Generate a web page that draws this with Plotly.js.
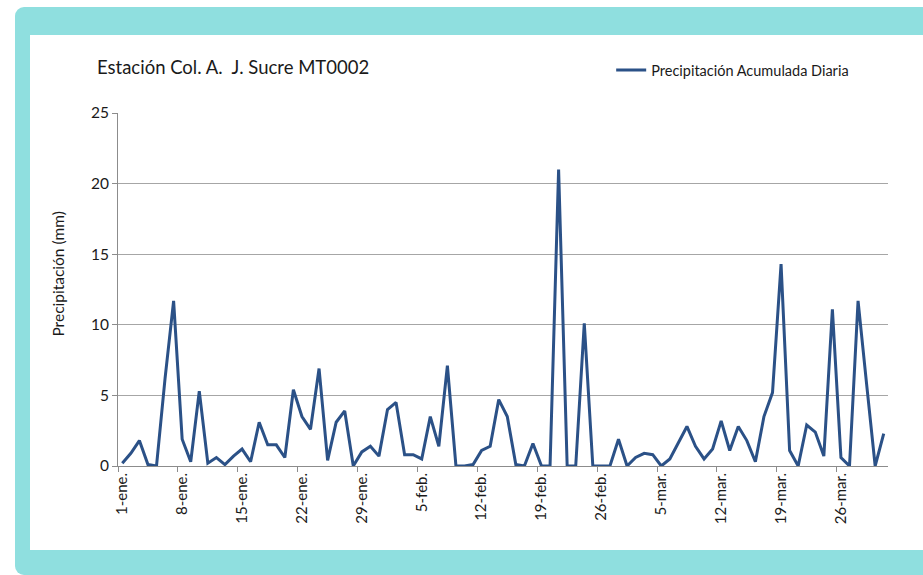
<!DOCTYPE html>
<html>
<head>
<meta charset="utf-8">
<script src="https://cdn.plot.ly/plotly-3.0.1.min.js"></script>
<style>
  html, body { margin: 0; padding: 0; background: #ffffff; }
  #marco { position: absolute; left: 15px; top: 7px; width: 940px; height: 568px;
           background: #8fdfdf; border-radius: 9px; }
  #hoja { position: absolute; left: 30px; top: 35px; width: 920px; height: 515px; background: #ffffff; }
  #grafico { position: absolute; left: 0; top: 0; width: 923px; height: 575px; }
</style>
</head>
<body>
<div id="marco"></div>
<div id="hoja"></div>
<div id="grafico"></div>
<script>
// Estación Col. A. J. Sucre MT0002 - precipitación diaria ene-mar

var dias = [
  "1-ene.", "2-ene.", "3-ene.", "4-ene.", "5-ene.", "6-ene.", "7-ene.", "8-ene.", "9-ene.", "10-ene.",
  "11-ene.", "12-ene.", "13-ene.", "14-ene.", "15-ene.", "16-ene.", "17-ene.", "18-ene.", "19-ene.", "20-ene.",
  "21-ene.", "22-ene.", "23-ene.", "24-ene.", "25-ene.", "26-ene.", "27-ene.", "28-ene.", "29-ene.", "30-ene.",
  "31-ene.", "1-feb.", "2-feb.", "3-feb.", "4-feb.", "5-feb.", "6-feb.", "7-feb.", "8-feb.", "9-feb.",
  "10-feb.", "11-feb.", "12-feb.", "13-feb.", "14-feb.", "15-feb.", "16-feb.", "17-feb.", "18-feb.", "19-feb.",
  "20-feb.", "21-feb.", "22-feb.", "23-feb.", "24-feb.", "25-feb.", "26-feb.", "27-feb.", "28-feb.", "1-mar.",
  "2-mar.", "3-mar.", "4-mar.", "5-mar.", "6-mar.", "7-mar.", "8-mar.", "9-mar.", "10-mar.", "11-mar.",
  "12-mar.", "13-mar.", "14-mar.", "15-mar.", "16-mar.", "17-mar.", "18-mar.", "19-mar.", "20-mar.", "21-mar.",
  "22-mar.", "23-mar.", "24-mar.", "25-mar.", "26-mar.", "27-mar.", "28-mar.", "29-mar.", "30-mar.", "31-mar."
];

var precipitacion = [
  0.2, 0.9, 1.8, 0.1, 0.0, 6.2, 11.7, 1.9, 0.3, 5.3,
  0.2, 0.6, 0.1, 0.7, 1.2, 0.3, 3.1, 1.5, 1.5, 0.6,
  5.4, 3.5, 2.6, 6.9, 0.4, 3.1, 3.9, 0.0, 1.0, 1.4,
  0.7, 4.0, 4.5, 0.8, 0.8, 0.5, 3.5, 1.4, 7.1, 0.0,
  0.0, 0.1, 1.1, 1.4, 4.7, 3.5, 0.1, 0.0, 1.6, 0.0,
  0.0, 21.0, 0.0, 0.0, 10.1, 0.0, 0.0, 0.0, 1.9, 0.0,
  0.6, 0.9, 0.8, 0.0, 0.5, 1.7, 2.8, 1.4, 0.5, 1.2,
  3.2, 1.1, 2.8, 1.8, 0.3, 3.5, 5.2, 14.3, 1.1, 0.0,
  2.9, 2.4, 0.7, 11.1, 0.6, 0.0, 11.7, 5.8, 0.0, 2.3
];

var etiquetas = ["1-ene.", "8-ene.", "15-ene.", "22-ene.", "29-ene.", "5-feb.", "12-feb.",
                 "19-feb.", "26-feb.", "5-mar.", "12-mar.", "19-mar.", "26-mar."];

var fuente = "Lato, 'Open Sans', sans-serif";

var posiciones = etiquetas.map(function (e) { return dias.indexOf(e); });

var serie = {
  x: dias.map(function (d, i) { return i; }),
  y: precipitacion,
  text: dias,
  name: 'Precipitación Acumulada Diaria',
  type: 'scatter',
  mode: 'lines',
  line: { color: '#2b5187', width: 3 },
  hovertemplate: '%{text}: %{y} mm<extra></extra>'
};

var layout = {
  width: 923,
  height: 575,
  paper_bgcolor: 'rgba(0,0,0,0)',
  plot_bgcolor: 'rgba(0,0,0,0)',
  margin: { l: 117.5, r: 35, t: 113, b: 109 },
  font: { family: fuente, color: '#1a1a1a', size: 14 },
  showlegend: true,
  legend: {
    x: (611 - 117.5) / 770.5, xref: 'paper', xanchor: 'left',
    y: (466 - 70) / 353, yref: 'paper', yanchor: 'middle',
    bgcolor: 'rgba(0,0,0,0)', font: { size: 14.5, family: fuente },
    itemwidth: 30, tracegroupgap: 0
  },
  title: {
    text: 'Estación Col. A.  J. Sucre MT0002',
    font: { size: 18.5, family: fuente, color: '#1a1a1a' },
    x: 97 / 923, xanchor: 'left', xref: 'container',
    y: 1 - 68 / 575, yanchor: 'middle'
  },
  xaxis: {
    range: [-0.5, dias.length - 0.5],
    tickmode: 'array',
    tickvals: posiciones,
    ticktext: etiquetas,
    tickangle: -90,
    ticks: '',
    tickfont: { size: 15, family: fuente, color: '#1a1a1a' },
    showgrid: false,
    zeroline: false,
    showline: true,
    linecolor: '#8c8c8c',
    linewidth: 1,
    minor: { tick0: -0.5, dtick: 7, ticks: 'outside', ticklen: 5, tickcolor: '#8c8c8c', showgrid: false }
  },
  yaxis: {
    range: [0, 25],
    dtick: 5,
    ticks: 'outside',
    ticklen: 5,
    tickcolor: '#8c8c8c',
    tickfont: { size: 15.5, family: fuente, color: '#1a1a1a' },
    showgrid: true,
    gridcolor: '#a6a6a6',
    gridwidth: 1,
    zeroline: false,
    showline: true,
    linecolor: '#8c8c8c',
    linewidth: 1
  },
  annotations: [{
    text: 'Precipitación (mm)',
    xref: 'paper', yref: 'paper',
    x: (57 - 117.5) / 770.5, y: (466 - 274) / 353,
    xanchor: 'center', yanchor: 'middle',
    textangle: -90, showarrow: false,
    font: { size: 15.5, family: fuente, color: '#1a1a1a' }
  }]
};

Plotly.newPlot('grafico', [serie], layout, { displayModeBar: false, staticPlot: true });
</script>
</body>
</html>
